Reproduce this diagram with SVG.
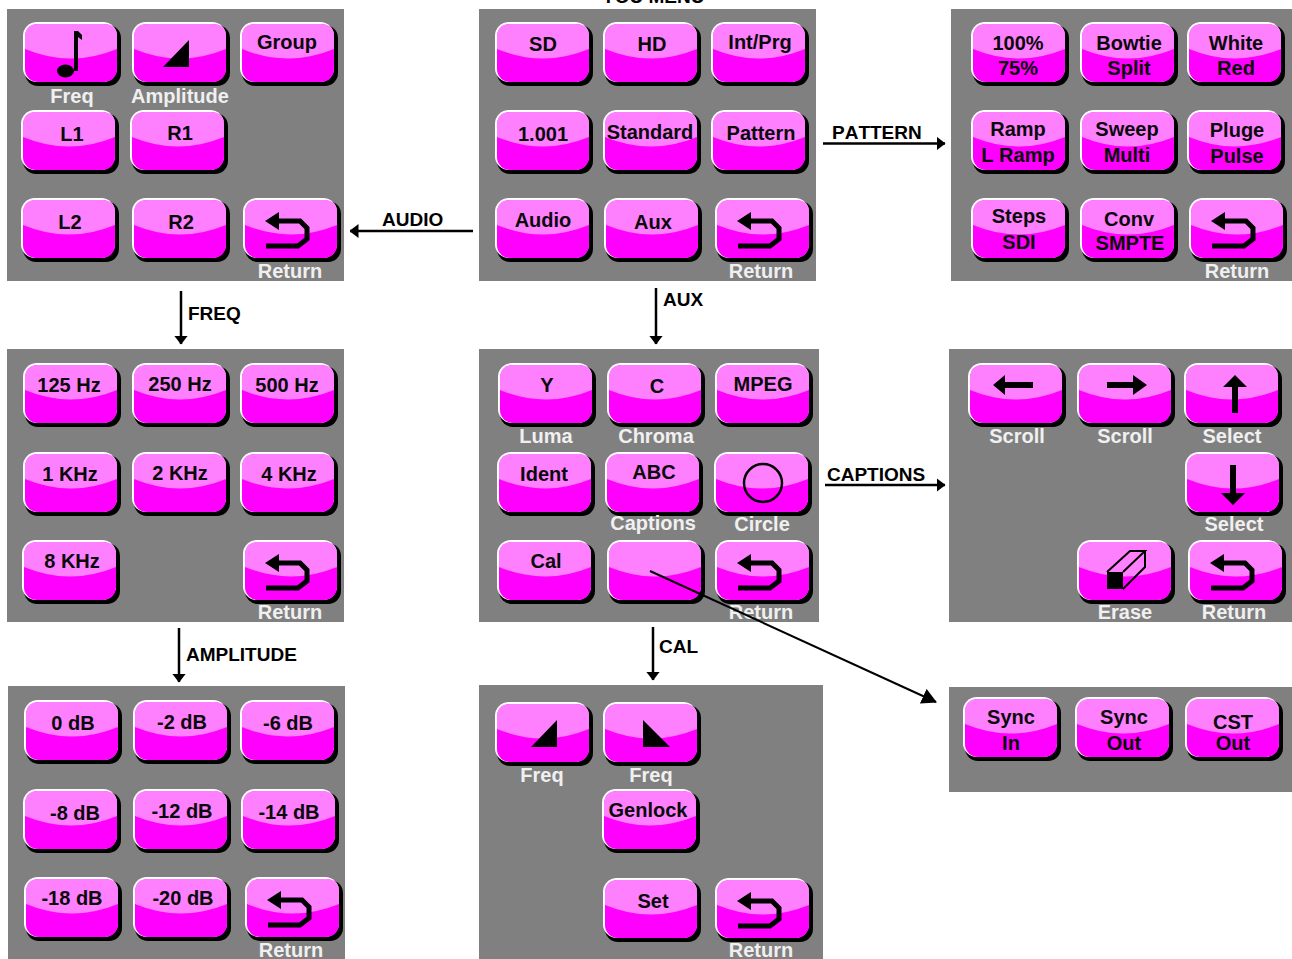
<svg xmlns="http://www.w3.org/2000/svg" width="1292" height="959" viewBox="0 0 1292 959">
<style>
.p{fill:#808080}
text{font-family:"Liberation Sans",Arial,sans-serif;font-weight:bold;font-size:20px;text-anchor:middle;font-kerning:none}
.b{fill:#0a0a0a}
.l{fill:#f0f0f0}
.c{fill:#000;text-anchor:start;font-size:19px}
.w{fill:none;stroke:#000;stroke-width:2.5}
.d{stroke-width:2}
</style>
<defs>
<marker id="ah" markerWidth="9" markerHeight="14" refX="8.5" refY="7" orient="auto" markerUnits="userSpaceOnUse"><path d="M0 0L9 7L0 14Z" fill="#000"/></marker>
<marker id="ah2" markerWidth="15" markerHeight="16" refX="14" refY="8" orient="auto" markerUnits="userSpaceOnUse"><path d="M0 0L15 8L0 16Z" fill="#000"/></marker>
<g id="btn">
<rect x="2" y="3" width="96" height="61" rx="13" fill="#000"/>
<rect x="0" y="0" width="94" height="60" rx="14" fill="#fff"/>
<rect x="2" y="2" width="92" height="58" rx="13" fill="#f0f"/>
<path d="M2 27V15Q2 2 15 2H81Q94 2 94 15V27Q48 46 2 27Z" fill="#ff80ff"/>
</g>
<g id="ret"><path d="M23 48H55L64 41V30L57 23H32" fill="none" stroke="#000" stroke-width="5"/><path d="M22 23L36 14V32Z" fill="#000"/></g>
<g id="note"><ellipse cx="42.500" cy="49" rx="8.500" ry="6.500" fill="#000"/><path d="M51 9H55V49H51Z" fill="#000"/><path d="M55 9L59 13V18L55 15Z" fill="#000"/></g>
<path id="tri" d="M31 45H57V18Z" fill="#000"/>
<path id="tri2" d="M40 18V45H67Z" fill="#000"/>
<path id="al" d="M25 22L37 12V19H65V25H37V32Z" fill="#000"/>
<path id="ar" d="M70 22L56 12V19H30V25H56V32Z" fill="#000"/>
<path id="au" d="M51 12L63 24H54V50H48V24H39Z" fill="#000"/>
<path id="ad" d="M48 53L36 41H45V13H51V41H60Z" fill="#000"/>
<g id="er"><path d="M30 32H46V49H30Z" fill="#000"/><path d="M30 32L53 11H68L46 32M68 11V27L46 49" fill="none" stroke="#000" stroke-width="2"/></g>
<circle id="ci" cx="49" cy="31" r="19" fill="none" stroke="#000" stroke-width="2.5"/>
</defs>

<g id="panel-audio">
<rect class="p" x="7" y="9" width="337" height="272"/>
<use href="#btn" x="23" y="22"/><use href="#note" x="23" y="22"/>
<use href="#btn" x="132" y="22"/><use href="#tri" x="132" y="22"/>
<use href="#btn" x="240" y="22"/>
<use href="#btn" x="21" y="110"/><use href="#btn" x="130" y="110"/>
<use href="#btn" x="21" y="198"/><use href="#btn" x="132" y="198"/>
<use href="#btn" x="243" y="198"/><use href="#ret" x="243" y="198"/>
<text class="l" x="72" y="103">Freq</text><text class="l" x="180" y="103">Amplitude</text>
<text class="b" x="287" y="49">Group</text><text class="b" x="72" y="141">L1</text><text class="b" x="180" y="140">R1</text>
<text class="b" x="70" y="229">L2</text><text class="b" x="181" y="229">R2</text>
<text class="l" x="290" y="278">Return</text>
</g>

<g id="panel-top">
<rect class="p" x="479" y="9" width="337" height="272"/>
<use href="#btn" x="495" y="22"/><use href="#btn" x="603" y="22"/><use href="#btn" x="711" y="22"/>
<use href="#btn" x="495" y="110"/><use href="#btn" x="603" y="110"/><use href="#btn" x="711" y="110"/>
<use href="#btn" x="495" y="198"/><use href="#btn" x="604" y="198"/>
<use href="#btn" x="715" y="198"/><use href="#ret" x="715" y="198"/>
<text class="b" x="543" y="51">SD</text><text class="b" x="652" y="51">HD</text><text class="b" x="760" y="49">Int/Prg</text>
<text class="b" x="543" y="141">1.001</text><text class="b" x="650" y="139">Standard</text><text class="b" x="761" y="140">Pattern</text>
<text class="b" x="543" y="227">Audio</text><text class="b" x="653" y="229">Aux</text>
<text class="l" x="761" y="278">Return</text>
</g>

<g id="panel-pattern">
<rect class="p" x="951" y="9" width="341" height="272"/>
<use href="#btn" x="971" y="22"/><use href="#btn" x="1080" y="22"/><use href="#btn" x="1187" y="22"/>
<use href="#btn" x="971" y="110"/><use href="#btn" x="1080" y="110"/><use href="#btn" x="1187" y="110"/>
<use href="#btn" x="971" y="198"/><use href="#btn" x="1080" y="198"/>
<use href="#btn" x="1189" y="198"/><use href="#ret" x="1189" y="198"/>
<text class="b" x="1018" y="50">100%</text><text class="b" x="1018" y="75">75%</text>
<text class="b" x="1129" y="50">Bowtie</text><text class="b" x="1129" y="75">Split</text>
<text class="b" x="1236" y="50">White</text><text class="b" x="1236" y="75">Red</text>
<text class="b" x="1018" y="136">Ramp</text><text class="b" x="1018" y="162">L Ramp</text>
<text class="b" x="1127" y="136">Sweep</text><text class="b" x="1127" y="162">Multi</text>
<text class="b" x="1237" y="137">Pluge</text><text class="b" x="1237" y="163">Pulse</text>
<text class="b" x="1019" y="223">Steps</text><text class="b" x="1019" y="249">SDI</text>
<text class="b" x="1129" y="226">Conv</text><text class="b" x="1130" y="250">SMPTE</text>
<text class="l" x="1237" y="278">Return</text>
</g>

<g id="panel-freq">
<rect class="p" x="7" y="349" width="337" height="273"/>
<use href="#btn" x="23" y="363"/><use href="#btn" x="132" y="363"/><use href="#btn" x="240" y="363"/>
<use href="#btn" x="23" y="452"/><use href="#btn" x="132" y="452"/><use href="#btn" x="240" y="452"/>
<use href="#btn" x="22" y="540"/>
<use href="#btn" x="243" y="540"/><use href="#ret" x="243" y="540"/>
<text class="b" x="69" y="392">125 Hz</text><text class="b" x="180" y="391">250 Hz</text><text class="b" x="287" y="392">500 Hz</text>
<text class="b" x="70" y="481">1 KHz</text><text class="b" x="180" y="480">2 KHz</text><text class="b" x="289" y="481">4 KHz</text>
<text class="b" x="72" y="568">8 KHz</text>
<text class="l" x="290" y="619">Return</text>
</g>

<g id="panel-aux">
<rect class="p" x="479" y="349" width="340" height="273"/>
<use href="#btn" x="498" y="363"/><use href="#btn" x="607" y="363"/><use href="#btn" x="715" y="363"/>
<use href="#btn" x="497" y="452"/><use href="#btn" x="605" y="452"/>
<use href="#btn" x="714" y="452"/><use href="#ci" x="714" y="452"/>
<use href="#btn" x="497" y="540"/><use href="#btn" x="607" y="540"/>
<use href="#btn" x="715" y="540"/><use href="#ret" x="715" y="540"/>
<text class="b" x="547" y="392">Y</text><text class="b" x="657" y="393">C</text><text class="b" x="763" y="391">MPEG</text>
<text class="l" x="546" y="443">Luma</text><text class="l" x="656" y="443">Chroma</text>
<text class="b" x="544" y="481">Ident</text><text class="b" x="654" y="479">ABC</text>
<text class="l" x="653" y="530">Captions</text><text class="l" x="762" y="531">Circle</text>
<text class="b" x="546" y="568">Cal</text>
<text class="l" x="761" y="619">Return</text>
</g>

<g id="panel-captions">
<rect class="p" x="949" y="349" width="343" height="273"/>
<use href="#btn" x="968" y="363"/><use href="#al" x="968" y="363"/>
<use href="#btn" x="1077" y="363"/><use href="#ar" x="1077" y="363"/>
<use href="#btn" x="1184" y="363"/><use href="#au" x="1184" y="363"/>
<use href="#btn" x="1185" y="452"/><use href="#ad" x="1185" y="452"/>
<use href="#btn" x="1077" y="540"/><use href="#er" x="1077" y="540"/>
<use href="#btn" x="1188" y="540"/><use href="#ret" x="1188" y="540"/>
<text class="l" x="1017" y="443">Scroll</text><text class="l" x="1125" y="443">Scroll</text><text class="l" x="1232" y="443">Select</text>
<text class="l" x="1234" y="531">Select</text><text class="l" x="1125" y="619">Erase</text><text class="l" x="1234" y="619">Return</text>
</g>

<g id="panel-amplitude">
<rect class="p" x="8" y="686" width="337" height="273"/>
<use href="#btn" x="24" y="700"/><use href="#btn" x="133" y="700"/><use href="#btn" x="240" y="700"/>
<use href="#btn" x="23" y="789"/><use href="#btn" x="133" y="789"/><use href="#btn" x="241" y="789"/>
<use href="#btn" x="24" y="877"/><use href="#btn" x="133" y="877"/>
<use href="#btn" x="245" y="877"/><use href="#ret" x="245" y="877"/>
<text class="b" x="73" y="730">0 dB</text><text class="b" x="182" y="729">-2 dB</text><text class="b" x="288" y="730">-6 dB</text>
<text class="b" x="75" y="820">-8 dB</text><text class="b" x="182" y="818">-12 dB</text><text class="b" x="289" y="819">-14 dB</text>
<text class="b" x="72" y="905">-18 dB</text><text class="b" x="183" y="905">-20 dB</text>
<text class="l" x="291" y="957">Return</text>
</g>

<g id="panel-cal">
<rect class="p" x="479" y="685" width="344" height="274"/>
<use href="#btn" x="495" y="702"/><use href="#tri" x="500" y="702"/>
<use href="#btn" x="603" y="702"/><use href="#tri2" x="603" y="702"/>
<use href="#btn" x="602" y="789"/>
<use href="#btn" x="603" y="878"/>
<use href="#btn" x="715" y="878"/><use href="#ret" x="715" y="878"/>
<text class="l" x="542" y="782">Freq</text><text class="l" x="651" y="782">Freq</text>
<text class="b" x="648" y="817">Genlock</text><text class="b" x="653" y="908">Set</text>
<text class="l" x="761" y="957">Return</text>
</g>

<g id="panel-sync">
<rect class="p" x="949" y="687" width="343" height="105"/>
<use href="#btn" x="963" y="697"/><use href="#btn" x="1075" y="697"/><use href="#btn" x="1185" y="697"/>
<text class="b" x="1011" y="724">Sync</text><text class="b" x="1011" y="750">In</text>
<text class="b" x="1124" y="724">Sync</text><text class="b" x="1124" y="750">Out</text>
<text class="b" x="1233" y="729">CST</text><text class="b" x="1233" y="750">Out</text>
</g>

<g id="connectors">
<line class="w" x1="823" y1="143.500" x2="945" y2="143.500" marker-end="url(#ah)"/>
<line class="w" x1="473" y1="231" x2="350" y2="231" marker-end="url(#ah)"/>
<line class="w" x1="181" y1="291" x2="181" y2="344" marker-end="url(#ah)"/>
<line class="w" x1="656" y1="288" x2="656" y2="344" marker-end="url(#ah)"/>
<line class="w" x1="825" y1="485" x2="945" y2="485" marker-end="url(#ah)"/>
<line class="w" x1="179" y1="628" x2="179" y2="682" marker-end="url(#ah)"/>
<line class="w" x1="653" y1="627" x2="653" y2="680" marker-end="url(#ah)"/>
<line class="w d" x1="650" y1="571" x2="936" y2="702" marker-end="url(#ah2)"/>
<text class="c" x="832" y="139">PATTERN</text>
<text class="c" x="382" y="226">AUDIO</text>
<text class="c" x="188" y="320">FREQ</text>
<text class="c" x="663" y="306">AUX</text>
<text class="c" x="827" y="481">CAPTIONS</text>
<text class="c" x="186" y="661">AMPLITUDE</text>
<text class="c" x="659" y="653">CAL</text>
<text class="c" x="602" y="3">YOU MENU</text>
</g>
</svg>
